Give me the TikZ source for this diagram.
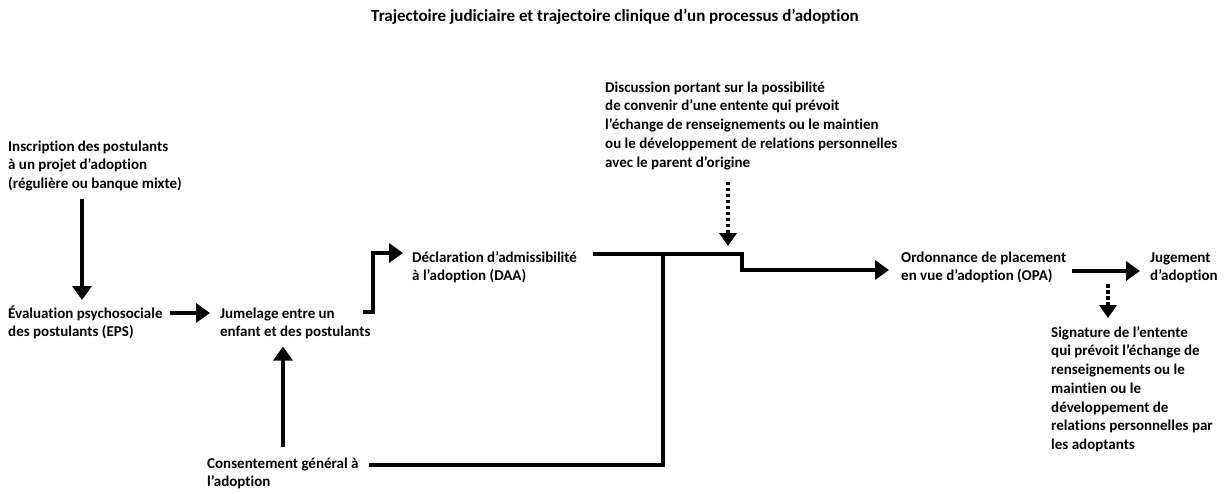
\documentclass[tikz,border=0pt]{standalone}
\usepackage{fontspec}
\setmainfont{Carlito}[Ligatures=NoCommon]
\usetikzlibrary{arrows.meta,calc}
\begin{document}
\begin{tikzpicture}[x=1pt,y=-1pt,
  txt/.style={anchor=north west,inner sep=0pt,align=left,
    font=\fontsize{15pt}{18.7pt}\selectfont\bfseries},
  ttl/.style={anchor=base,inner sep=0pt,font=\fontsize{17pt}{20pt}\selectfont\bfseries},
  thick line/.style={line width=4pt},
  arr/.style={line width=4pt,-{Triangle[width=19pt,length=14pt]}},
  darr/.style={line width=4pt,dash pattern=on 3.5pt off 2.5pt,-{Triangle[width=17pt,length=13pt]}}]
\useasboundingbox (0,0) rectangle (1231,493);
\node[ttl] (title) at (615,21) {Trajectoire judiciaire et trajectoire clinique d’un processus d’adoption};
\node[txt] (ins) at (8,138) {\strut Inscription des postulants\\à un projet d’adoption\\(régulière ou banque mixte)};
\node[txt] (eval) at (8,305) {\strut Évaluation psychosociale\\des postulants (EPS)};
\node[txt] (jum) at (220,305) {\strut Jumelage entre un\\enfant et des postulants};
\node[txt] (daa) at (412,249) {\strut Déclaration d’admissibilité\\à l’adoption (DAA)};
\node[txt] (disc) at (605,79) {\strut Discussion portant sur la possibilité\\de convenir d’une entente qui prévoit\\l’échange de renseignements ou le maintien\\ou le développement de relations personnelles\\avec le parent d’origine};
\node[txt] (opa) at (901,249) {\strut Ordonnance de placement\\en vue d’adoption (OPA)};
\node[txt] (jug) at (1150,249) {\strut Jugement\\d’adoption};
\node[txt] (sig) at (1051,324) {\strut Signature de l’entente\\qui prévoit l’échange de\\renseignements ou le\\maintien ou le\\développement de\\relations personnelles par\\les adoptants};
\node[txt] (cons) at (207,455) {\strut Consentement général à\\l’adoption};
\coordinate (bend) at (742,254);
\coordinate (merge) at (663,254);
\coordinate (dtip) at (728,246);
\coordinate (dstart) at (1108,284);
% connectors
\draw[arr] ([xshift=74pt,yshift=-8pt]ins.south west) -- ([xshift=74pt,yshift=5pt]eval.north west);
\draw[arr] ([xshift=7pt,yshift=-8pt]eval.north east) -- ([xshift=-10pt,yshift=-8pt]jum.north west);
\draw[arr] ([xshift=-8pt,yshift=-7pt]jum.north east) -- ++(10,0) |- ([xshift=-9pt,yshift=-4pt]daa.north west);
\draw[arr] ([xshift=16pt,yshift=-5pt]daa.north east) -| (bend) |- ([xshift=-12pt,yshift=-21pt]opa.north west);
\draw[thick line] ([xshift=10pt,yshift=-10pt]cons.north east) -| (merge);
\draw[arr] ([xshift=76pt,yshift=8pt]cons.north west) -- ([xshift=63pt,yshift=-7pt]jum.south west);
\draw[darr] ($(disc.south -| dtip)+(0,12)$) -- (dtip);
\draw[arr] ([xshift=6pt,yshift=-22pt]opa.north east) -- ([xshift=-10pt,yshift=-22pt]jug.north west);
\draw[darr] (dstart) -- ([yshift=6pt]sig.north -| dstart);
\end{tikzpicture}
\end{document}
